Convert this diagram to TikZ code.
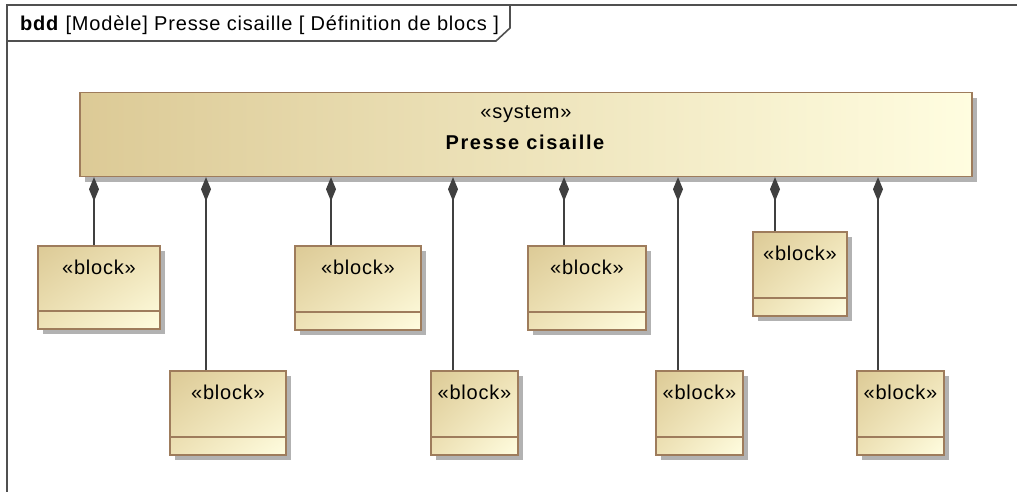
\documentclass[tikz,border=0pt]{standalone}
\usepackage{fontspec}
\setmainfont{Liberation Sans}[LetterSpace=4]
\usetikzlibrary{arrows.meta,shadows,shadings}
\definecolor{tanA}{RGB}{220,202,150}
\definecolor{tanM}{RGB}{238,226,182}
\definecolor{tanB}{RGB}{255,253,224}
\definecolor{brd}{RGB}{158,124,92}
\definecolor{shd}{RGB}{178,178,178}
\definecolor{lnk}{RGB}{64,64,64}
\definecolor{frm}{RGB}{80,80,80}
\tikzset{
  sysbox/.style={draw=brd, line width=1.4pt, left color=tanA, right color=tanB,
    drop shadow={shadow xshift=5pt, shadow yshift=-5pt, fill=shd, opacity=1},
    minimum width=892pt, minimum height=84pt, inner sep=0pt},
  blk/.style={draw=brd, line width=1.4pt, upper left=tanA, lower right=tanB,
    upper right=tanM, lower left=tanM,
    drop shadow={shadow xshift=5pt, shadow yshift=-5pt, fill=shd, opacity=1},
    inner sep=0pt},
  stereo/.style={font=\fontsize{20}{22}\selectfont, inner sep=0pt},
  comp/.style={draw=lnk, line width=1.6pt, -{Diamond[length=24pt,width=10pt,fill=lnk]}},
  frame/.style={draw=frm, line width=1.6pt},
  div/.style={draw=brd, line width=1.4pt}
}
\begin{document}
\begin{tikzpicture}[x=1pt,y=-1pt]
\useasboundingbox (0,0) rectangle (1017,491);
% frame
\draw[frame] (7,495) -- (7,5) -- (1020,5);
\draw[frame] (7,41) -- (496,41) -- (510,28) -- (510,5);
\node[stereo, anchor=base west] (title) at (20,30) {\textbf{bdd} [Modèle] Presse cisaille [ Définition de blocs ]};
% system block
\node[sysbox] (sys) at (526,134.5) {};
\node[stereo] (sysst) at (526,114) {«system»};
\node[stereo, font=\fontsize{20}{22}\selectfont\bfseries\addfontfeatures{LetterSpace=8}] (sysname) at (525,142) {Presse cisaille};
% child blocks: name / left / right / top / bottom / divider
\foreach \n/\l/\r/\t/\b/\d in {b1/38/160/246/329/311, b2/170/286/371/455/437,
  b3/295/421/246/330/312, b4/431/518/371/455/437, b5/528/646/246/330/312,
  b6/656/743/371/455/437, b7/753/847/232/316/298, b8/857/944/371/455/437}{
  \node[blk, minimum width={\r-\l}, minimum height={\b-\t}] (\n) at ({(\l+\r)/2},{(\t+\b)/2}) {};
  \node[stereo] (\n txt) at ({(\l+\r)/2},{\t+21}) {«block»};
  \draw[div] (\l,\d) -- (\r,\d);
}
% composition connectors
\foreach \n/\x in {b1/94, b2/206, b3/331, b4/453, b5/564, b6/678, b7/775, b8/878}{
  \draw[comp] (\x,0 |- \n.north) -- (\x,0 |- sys.south);
}
\end{tikzpicture}
\end{document}
